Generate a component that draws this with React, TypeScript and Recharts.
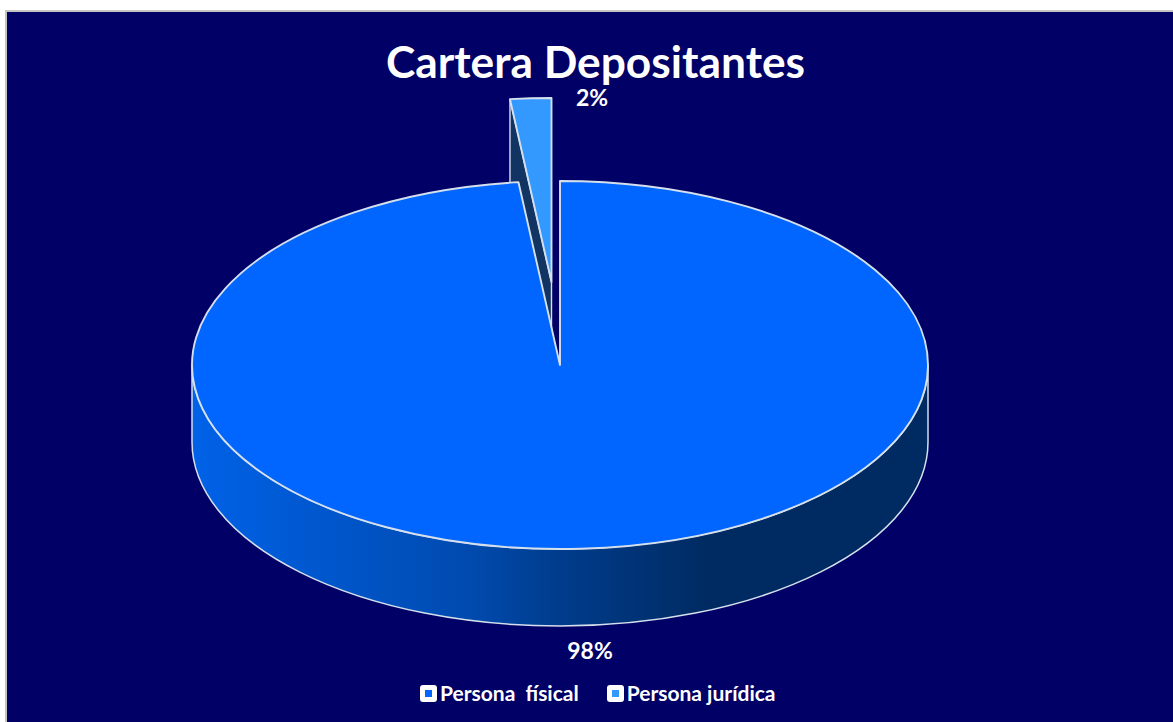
import { Cell, Legend, Pie, PieChart } from "recharts";

const CATEGORIES = ["Persona jurídica", "Persona  físical"];
const VALUES = [1.8, 98.2];
const COLORS = ["#3399FF", "#0066FF"];

const data = CATEGORIES.map((name, i) => ({ name, value: VALUES[i] }));

const NAVY = "#000066";
const EDGE = "#D5E0EC";
const FONT = "Lato, sans-serif";
const SQUASH = 0.5;
const DEPTH = 77;

const pt = (cx: number, cy: number, r: number, deg: number) => {
  const a = (deg * Math.PI) / 180;
  return [cx + r * Math.cos(a), cy - r * SQUASH * Math.sin(a)];
};

// flattened sector with a side wall, the angles come from the Pie
function Slice3D(props: any) {
  const { cx, cy, outerRadius: r, startAngle, endAngle, fill, percent } = props;
  const ry = r * SQUASH;

  if (percent < 0.5) {
    // the pulled out slice
    const ox = cx - 8.5;
    const oy = cy - 83;
    const [x1, y1] = pt(ox, oy, r, startAngle);
    const [x2, y2] = pt(ox, oy, r, endAngle);
    const wall = 84;
    return (
      <g>
        <path
          d={`M${ox},${oy} L${x1},${y1} L${x1},${y1 + wall} L${ox},${oy + wall} Z`}
          fill="#123463"
          stroke={EDGE}
          strokeWidth={1.4}
        />
        <path
          d={`M${ox},${oy} L${x1},${y1} A${r},${ry} 0 0 1 ${x2},${y2} Z`}
          fill={fill}
          stroke={EDGE}
          strokeWidth={1.9}
          strokeLinejoin="round"
        />
      </g>
    );
  }

  const [x1, y1] = pt(cx, cy, r, startAngle);
  const [x2, y2] = pt(cx, cy, r, endAngle);
  return (
    <g>
      <path
        d={`M${cx + r},${cy} A${r},${ry} 0 0 1 ${cx - r},${cy} L${cx - r},${cy + DEPTH} A${r},${ry} 0 0 0 ${cx + r},${cy + DEPTH} Z`}
        fill="url(#wallGrad)"
        stroke={EDGE}
        strokeWidth={1.5}
      />
      <path
        d={`M${cx},${cy} L${x1},${y1} A${r},${ry} 0 1 1 ${x2},${y2} Z`}
        fill={fill}
        stroke={EDGE}
        strokeWidth={1.9}
        strokeLinejoin="round"
      />
    </g>
  );
}

function SliceLabel({ index, percent }: any) {
  const x = index === 0 ? 592 : 590;
  const y = index === 0 ? 106 : 659;
  return (
    <text x={x} y={y} textAnchor="middle" fill="#fff" fontFamily={FONT} fontWeight={700} fontSize={23}>
      {`${Math.round(percent * 100)}%`}
    </text>
  );
}

function LegendRow({ payload }: any) {
  const items = [...(payload ?? [])].sort((a, b) => b.payload.value - a.payload.value);
  return (
    <div style={{ display: "flex", alignItems: "center", height: 22 }}>
      {items.map((it: any, i: number) => (
        <div key={it.value} style={{ display: "flex", alignItems: "center", marginRight: i === 0 ? 28 : 0 }}>
          <span
            style={{
              width: 17,
              height: 17,
              background: "#fff",
              borderRadius: 3,
              display: "flex",
              alignItems: "center",
              justifyContent: "center",
              marginRight: 3,
            }}
          >
            <span style={{ width: 7, height: 7, background: it.color }} />
          </span>
          <span
            style={{
              color: "#fff",
              fontFamily: FONT,
              fontWeight: 700,
              fontSize: 21,
              whiteSpace: "pre",
              lineHeight: "22px",
            }}
          >
            {it.value}
          </span>
        </div>
      ))}
    </div>
  );
}

export default function App() {
  return (
    <div style={{ position: "absolute", left: 0, top: 0, width: 1173, height: 722, background: "#fff", overflow: "hidden" }}>
      <div
        style={{
          position: "absolute",
          left: 5,
          top: 10,
          width: 1168,
          height: 712,
          boxSizing: "border-box",
          background: NAVY,
          borderLeft: "2px solid #c4c4c4",
          borderTop: "2px solid #c4c4c4",
        }}
      />
      <div style={{ position: "absolute", left: 0, top: 0 }}>
        <PieChart width={1173} height={722} margin={{ top: 0, right: 0, bottom: 0, left: 0 }}>
          <defs>
            <linearGradient id="wallGrad" x1="0" y1="0" x2="1" y2="0">
              <stop offset="0" stopColor="#0062E8" />
              <stop offset="0.38" stopColor="#004AAE" />
              <stop offset="0.5" stopColor="#003C8C" />
              <stop offset="0.7" stopColor="#002B62" />
              <stop offset="1" stopColor="#002B62" />
            </linearGradient>
          </defs>
          <text x={595.5} y={78} textAnchor="middle" fill="#fff" fontFamily={FONT} fontWeight={700} fontSize={44.3}>
            Cartera Depositantes
          </text>
          <Pie
            data={data}
            dataKey="value"
            nameKey="name"
            cx={560}
            cy={365}
            outerRadius={368}
            startAngle={90 + (VALUES[0] / 100) * 360}
            endAngle={90 + (VALUES[0] / 100) * 360 - 360}
            stroke="none"
            shape={Slice3D}
            label={SliceLabel}
            labelLine={false}
            isAnimationActive={false}
          >
            {data.map((d, i) => (
              <Cell key={d.name} fill={COLORS[i]} />
            ))}
          </Pie>
          <Legend
            content={LegendRow}
            wrapperStyle={{ position: "absolute", left: 420, top: 682, width: 420, bottom: "auto" }}
          />
        </PieChart>
      </div>
    </div>
  );
}
